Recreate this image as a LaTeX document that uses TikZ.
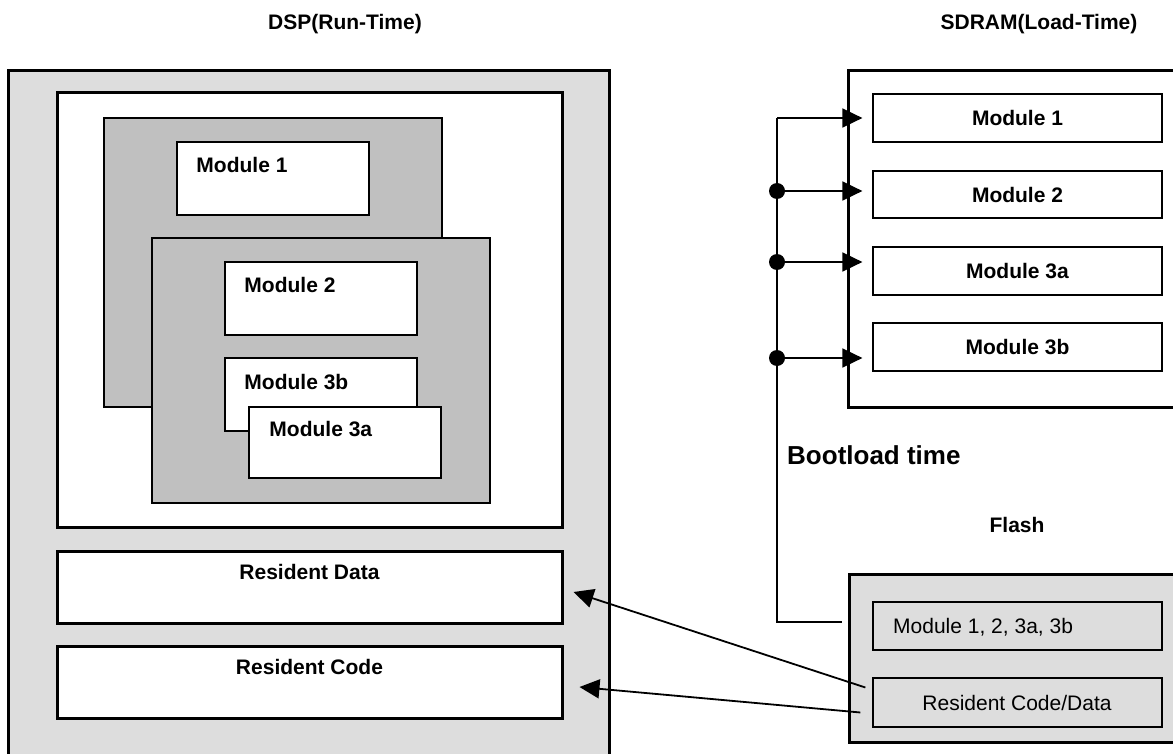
\documentclass[tikz,border=0pt]{standalone}
\usepackage{fontspec}
\setmainfont{Liberation Sans}
\usetikzlibrary{arrows.meta,fit}
\definecolor{shellgray}{HTML}{DDDDDD}
\definecolor{panelgray}{HTML}{C0C0C0}

\begin{document}
\begin{tikzpicture}[x=1pt,y=-1pt,>={Triangle[length=20pt,width=19pt]},
  font=\bfseries\fontsize{21}{25}\selectfont,
  heavy/.style={draw,line width=3pt,inner sep=0pt},
  panel/.style={draw,line width=2pt,fill=panelgray,inner sep=0pt},
  slot/.style={draw,line width=1.5pt,fill=white,inner sep=0pt},
  cell/.style={draw,line width=1.2pt,inner sep=0pt},
  tag/.style={inner sep=0pt,anchor=west},
  plain/.style={inner sep=0pt,font=\mdseries\fontsize{21}{25}\selectfont},
  bus/.style={line width=1.5pt},
  load/.style={->,line width=1.8pt}]
\useasboundingbox (0,0) rectangle (1173,754);
\clip (0,0) rectangle (1173,754);
% titles
\node[inner sep=0pt] (dsptitle) at (345,24) {DSP(Run-Time)};
\node[inner sep=0pt] (sdtitle) at (1039,24) {SDRAM(Load-Time)};
% DSP side
\node[heavy,fill=shellgray,fit={(8,71) (609,770)}] (dsp) {};
\node[heavy,fill=white,fit={(57,93) (562,527)}] (run) {};
\node[panel,fit={(104,118) (442,407)}] (pa) {};
\node[slot,fit={(177,142) (369,215)}] (m1) {};
\node[tag] (m1txt) at ([shift={(20,24)}]m1.north west) {Module 1};
\node[panel,fit={(152,238) (490,503)}] (pb) {};
\node[slot,fit={(225,262) (417,335)}] (m2) {};
\node[tag] (m2txt) at ([shift={(20,24)}]m2.north west) {Module 2};
\node[slot,fit={(225,358) (417,431)}] (m3b) {};
\node[tag] (m3btxt) at ([shift={(20,25)}]m3b.north west) {Module 3b};
\node[slot,fit={(249,407) (441,478)}] (m3a) {};
\node[tag] (m3atxt) at ([shift={(21,23)}]m3a.north west) {Module 3a};
\node[heavy,fill=white,fit={(57,551) (562,623)}] (rd) {};
\node[inner sep=0pt] (rdtxt) at ([yshift=-22pt]rd.north) {Resident Data};
\node[heavy,fill=white,fit={(57,646) (562,718)}] (rc) {};
\node[inner sep=0pt] (rctxt) at ([yshift=-22pt]rc.north) {Resident Code};
% SDRAM side
\node[heavy,fill=white,fit={(848,71) (1190,407)}] (sdram) {};
\node[cell,fill=white,fit={(873,94) (1162,142)}] (s1) {};
\node[inner sep=0pt] (s1txt) at (s1) {Module 1};
\node[cell,fill=white,fit={(873,171) (1162,218)}] (s2) {};
\node[inner sep=0pt] (s2txt) at (s2) {Module 2};
\node[cell,fill=white,fit={(873,247) (1162,295)}] (s3a) {};
\node[inner sep=0pt] (s3atxt) at (s3a) {Module 3a};
\node[cell,fill=white,fit={(873,323) (1162,371)}] (s3b) {};
\node[inner sep=0pt] (s3btxt) at (s3b) {Module 3b};
\node[inner sep=0pt,anchor=west,font=\bfseries\fontsize{26}{30}\selectfont] (boot) at (787,455) {Bootload time};
\node[inner sep=0pt] (flashtxt) at (1017,525) {Flash};
% Flash
\node[heavy,fill=shellgray,fit={(849,574) (1190,742)}] (flash) {};
\node[cell,fill=shellgray,fit={(873,602) (1162,650)}] (fm) {};
\node[plain,anchor=base west] (fmtxt) at (893,633) {Module 1, 2, 3a, 3b};
\node[cell,fill=shellgray,fit={(873,678) (1162,727)}] (rcd) {};
\node[plain,anchor=base] (rcdtxt) at (1017,710) {Resident Code/Data};
% bootload bus
\coordinate (b1) at (777,118);
\coordinate (b2) at (777,191);
\coordinate (b3) at (777,262);
\coordinate (b4) at (777,358);
\coordinate (bend) at (777,622);
\coordinate (tail) at (842,622);
\draw[bus] (b1) -- (bend) -- (tail);
\foreach \b/\m in {b1/s1,b2/s2,b3/s3a,b4/s3b}
  \draw[bus,->,shorten >=10pt] (\b) -- (\b -| \m.west);
\foreach \b in {b2,b3,b4}
  \fill (\b) circle (8pt);
% resident copies
\draw[load] ([shift={(-7,-15)}]rcd.west) -- ([shift={(10,5)}]rd.east);
\draw[load] ([shift={(-12,10)}]rcd.west) -- ([shift={(16,5)}]rc.east);
\end{tikzpicture}
\end{document}
